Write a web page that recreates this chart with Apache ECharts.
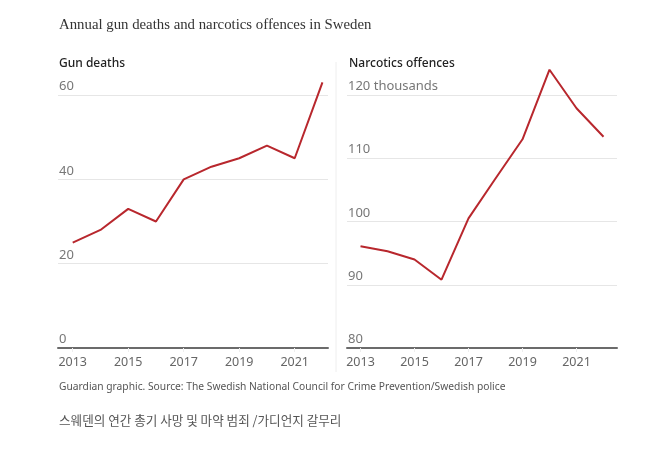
<!DOCTYPE html>
<html>
<head>
<meta charset="utf-8">
<script src="https://cdn.jsdelivr.net/npm/echarts@6/dist/echarts.min.js"></script>
<style>
html,body{margin:0;padding:0;background:#fff;}
#c{width:671px;height:456px;}
</style>
</head>
<body>
<div id="c"></div>
<script>
const years = [2013, 2014, 2015, 2016, 2017, 2018, 2019, 2020, 2021, 2022];
const gunDeaths = [25, 28, 33, 30, 40, 43, 45, 48, 45, 63];
const narcotics = [96.1, 95.3, 94.0, 90.8, 100.5, 106.8, 113.0, 124.0, 117.9, 113.4];
const yearTicks = [2013, 2015, 2017, 2019, 2021];
const title = 'Annual gun deaths and narcotics offences in Sweden';
const leftTitle = 'Gun deaths';
const rightTitle = 'Narcotics offences';
const source = 'Guardian graphic. Source: The Swedish National Council for Crime Prevention/Swedish police';
const caption = '스웨덴의 연간 총기 사망 및 마약 범죄 /가디언지 갈무리';

const chart = echarts.init(document.getElementById('c'), null, {renderer: 'canvas'});
const sans = '"Noto Sans", "Open Sans", sans-serif';
const lineColor = '#b8272d';

function xAxis(gridIndex, min, max) {
  return {
    type: 'value', gridIndex, min, max,
    axisLine: {show: true, onZero: false, lineStyle: {color: '#6b6b6b', width: 2}},
    axisTick: {show: true, customValues: yearTicks, length: 4, lineStyle: {color: '#eeeeee'}},
    splitLine: {show: false},
    axisLabel: {customValues: yearTicks, color: '#666', fontSize: 12.5, fontFamily: sans, margin: 8,
      formatter: v => String(v)}
  };
}
function yAxis(gridIndex, min, max, interval, fmt) {
  return {
    type: 'value', gridIndex, min, max, interval,
    axisLine: {show: false}, axisTick: {show: false},
    splitLine: {lineStyle: {color: '#e6e6e6', width: 1}},
    axisLabel: {inside: true, align: 'left', verticalAlign: 'bottom', margin: 1,
      padding: [0, 0, 2, 0], color: '#777', fontSize: 13, fontFamily: sans, formatter: fmt}
  };
}

chart.setOption({
  animation: false,
  backgroundColor: '#fff',
  grid: [
    {left: 58, right: 343, top: 95, bottom: 108},
    {left: 347, right: 54, top: 95, bottom: 108}
  ],
  xAxis: [xAxis(0, 2012.47, 2022.2), xAxis(1, 2012.5, 2022.5)],
  yAxis: [
    yAxis(0, 0, 60, 20, v => String(v)),
    yAxis(1, 80, 120, 10, v => v === 120 ? '120 thousands' : String(v))
  ],
  series: [
    {type: 'line', xAxisIndex: 0, yAxisIndex: 0, data: years.map((y, i) => [y, gunDeaths[i]]),
      clip: false, showSymbol: false, lineStyle: {color: lineColor, width: 2}, itemStyle: {color: lineColor}},
    {type: 'line', xAxisIndex: 1, yAxisIndex: 1, data: years.map((y, i) => [y, narcotics[i]]),
      clip: false, showSymbol: false, lineStyle: {color: lineColor, width: 2}, itemStyle: {color: lineColor}}
  ],
  graphic: [
    {type: 'text', left: 59, top: 18, style: {text: title, fill: '#333', fontSize: 14.8,
      fontFamily: '"Liberation Serif", "DejaVu Serif", serif'}},
    {type: 'text', left: 59, top: 58, style: {text: leftTitle, fill: '#222', fontSize: 12, fontWeight: 500, fontFamily: sans}},
    {type: 'text', left: 349, top: 58, style: {text: rightTitle, fill: '#222', fontSize: 12, fontWeight: 500, fontFamily: sans}},
    {type: 'line', shape: {x1: 336, y1: 62, x2: 336, y2: 372}, style: {stroke: '#eeeeee', lineWidth: 1}},
    {type: 'text', left: 59, top: 382, style: {text: source, fill: '#555', fontSize: 10.25, fontFamily: sans}},
    {type: 'text', left: 59, top: 414, style: {text: caption, fill: '#555', fontSize: 12.6, fontFamily: '"Noto Sans CJK KR", sans-serif'}}
  ]
});
</script>
</body>
</html>
